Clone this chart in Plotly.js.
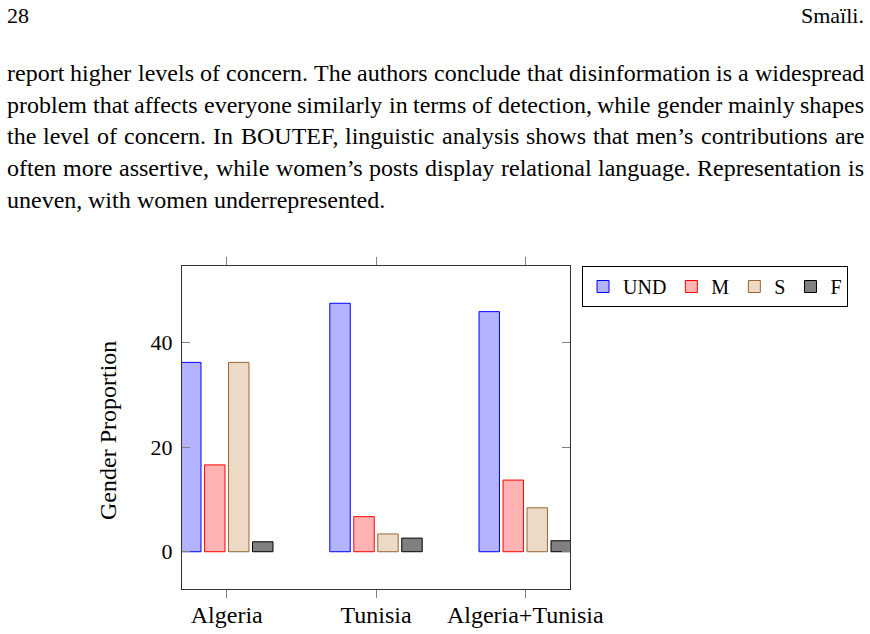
<!DOCTYPE html>
<html><head><meta charset="utf-8">
<script src="https://cdn.plot.ly/plotly-3.0.1.min.js"></script>
<style>html,body{margin:0;padding:0;background:#fff}#chart{width:870px;height:634px}</style>
</head><body><div id="chart"></div>
<script>
// ---- data ----
const categories = ['Algeria', 'Tunisia', 'Algeria+Tunisia'];
const seriesNames = ['UND', 'M', 'S', 'F'];
const undValues = [36.2, 47.5, 45.9];
const mValues = [16.6, 6.7, 13.7];
const sValues = [36.2, 3.4, 8.4];
const fValues = [1.9, 2.6, 2.1];
const yTickValues = [0, 20, 40];
const yTitle = 'Gender Proportion';
const headerLeft = '28';
const headerRight = 'Smaïli.';
const paragraphLines = [
  'report higher levels of concern. The authors conclude that disinformation is a widespread',
  'problem that affects everyone similarly in terms of detection, while gender mainly shapes',
  'the level of concern. In BOUTEF, linguistic analysis shows that men\u2019s contributions are',
  'often more assertive, while women\u2019s posts display relational language. Representation is',
  'uneven, with women underrepresented.'
];

// ---- styling ----
const FONT = 'Liberation Serif, Times New Roman, serif';
const W = 870, H = 634;
const L = 182, R = 570, T = 266, B = 589;
const px2x = px => (px - L) / (R - L);
const py2y = py => (B - py) / (B - T);

const fills = ['#b3b3ff', '#ffb3b3', '#ecd9c6', '#808080'];
const strokes = ['#0000ff', '#ff0000', '#996633', '#000000'];
const seriesValues = [undValues, mValues, sValues, fValues];

const traces = seriesNames.map((name, i) => ({
  type: 'bar',
  name: name,
  x: categories,
  y: seriesValues[i],
  marker: {color: fills[i], line: {color: strokes[i], width: 1}},
  hoverinfo: 'x+y+name'
}));

// ---- page text (justified paragraph) ----
const annotations = [];
const bodySize = 24;
const ctx = document.createElement('canvas').getContext('2d');
ctx.font = bodySize + 'px "Liberation Serif"';
const textLeft = 7, textRight = 864;
const firstBaseline = 80, lineStep = 31.8;

function addText(text, px, baseline, anchor, size) {
  annotations.push({
    text: text, showarrow: false, xref: 'paper', yref: 'paper',
    x: px2x(px), y: py2y(baseline - 0.3 * size), xanchor: anchor, yanchor: 'middle',
    borderpad: 0, borderwidth: 0,
    font: {family: FONT, size: size, color: '#000'}
  });
}

addText(headerLeft, textLeft, 22, 'left', 22);
addText(headerRight, textRight, 22, 'right', 22);

paragraphLines.forEach((line, li) => {
  const baseline = firstBaseline + li * lineStep;
  const words = line.split(' ');
  const last = li === paragraphLines.length - 1;
  const widths = words.map(w => ctx.measureText(w).width);
  const total = widths.reduce((a, b) => a + b, 0);
  const gap = last ? ctx.measureText(' ').width : (textRight - textLeft - total) / (words.length - 1);
  let xpos = textLeft;
  words.forEach((w, wi) => {
    addText(w, xpos, baseline, 'left', bodySize);
    xpos += widths[wi] + gap;
  });
});

// y axis title
annotations.push({
  text: yTitle, showarrow: false, xref: 'paper', yref: 'paper',
  x: px2x(108), y: py2y(431), xanchor: 'center', yanchor: 'middle', textangle: -90,
  font: {family: FONT, size: 24, color: '#000'}
});

const axisCommon = {
  showline: true, linecolor: '#333', linewidth: 1, mirror: 'ticks',
  ticklen: 8, tickwidth: 1, tickcolor: '#808080',
  showgrid: false, zeroline: false, fixedrange: true
};

const layout = {
  width: W, height: H,
  margin: {l: L, r: W - R, t: T, b: H - B, pad: 0},
  paper_bgcolor: '#fff', plot_bgcolor: '#fff',
  font: {family: FONT, color: '#000'},
  barmode: 'group', bargap: 0.357, bargroupgap: 0.148,
  showlegend: true,
  legend: {
    orientation: 'h', x: px2x(582), xanchor: 'left', y: 1, yanchor: 'top',
    bordercolor: '#000', borderwidth: 1, bgcolor: '#fff',
    font: {family: FONT, size: 20, color: '#000'}, itemwidth: 30, traceorder: 'normal'
  },
  xaxis: Object.assign({}, axisCommon, {
    type: 'category', range: [-0.3, 2.3], ticks: 'outside',
    ticklabelstandoff: -4,
    tickfont: {family: FONT, size: 24, color: '#000'}
  }),
  yaxis: Object.assign({}, axisCommon, {
    range: [-7.125, 54.625], tickvals: yTickValues, ticks: 'inside',
    ticklabelstandoff: 4,
    tickfont: {family: FONT, size: 22, color: '#000'}
  }),
  annotations: annotations
};

Plotly.newPlot('chart', traces, layout, {displayModeBar: false, staticPlot: true});
</script>
</body></html>
